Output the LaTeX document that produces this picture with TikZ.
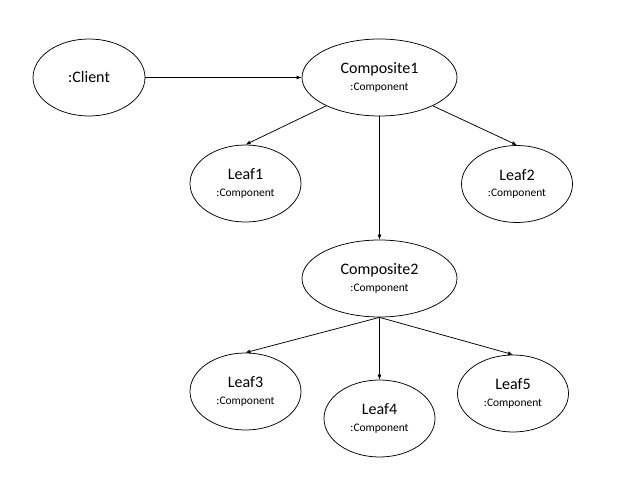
\documentclass[tikz,border=0pt]{standalone}
\usepackage{fontspec}
\setmainfont{Carlito}
\usetikzlibrary{shapes.geometric, arrows.meta}

\tikzset{
  obj/.style={draw, ellipse, inner sep=0pt, align=center, font=\fontsize{16}{17}\selectfont},
  leafobj/.style={obj, minimum width=111pt, minimum height=77pt},
  compobj/.style={obj, minimum width=155pt, minimum height=77pt},
  link/.style={-{Latex[length=5pt,width=4pt]}},
}
\newcommand{\objlabel}[1]{#1\\[-0.5pt]{\fontsize{11.5}{12}\selectfont :Component}}

\begin{document}
\begin{tikzpicture}[x=1pt, y=-1pt, line width=0.75pt]
        \useasboundingbox (0,0) rectangle (619,486);
        % Top row
        \node[leafobj, minimum width=112pt] (client) at (89,77.5) {:Client};
        \node[compobj] (comp1) at (379.5,77.5) {\objlabel{Composite1}};
        % First level
        \node[leafobj] (leaf1) at (245.5,183.5) {\objlabel{Leaf1}};
        \node[leafobj] (leaf2) at (517,184) {\objlabel{Leaf2}};
        \node[compobj] (comp2) at (379.5,278.5) {\objlabel{Composite2}};
        % Second level
        \node[leafobj] (leaf3) at (245.5,391.5) {\objlabel{Leaf3}};
        \node[leafobj] (leaf4) at (379.5,418.5) {\objlabel{Leaf4}};
        \node[leafobj] (leaf5) at (513,393.5) {\objlabel{Leaf5}};
        % Links
        \draw[link] (client) -- (comp1);
        \draw[link] (comp1.208) -- (leaf1.north);
        \draw[link] (comp1.332) -- (leaf2.north);
        \draw[link] (comp1.south) -- (comp2.north);
        \draw[link] (comp2.south) -- (leaf3.north);
        \draw[link] (comp2.south) -- (leaf4.north);
        \draw[link] (comp2.south) -- (leaf5.north);
    \end{tikzpicture}
\end{document}
